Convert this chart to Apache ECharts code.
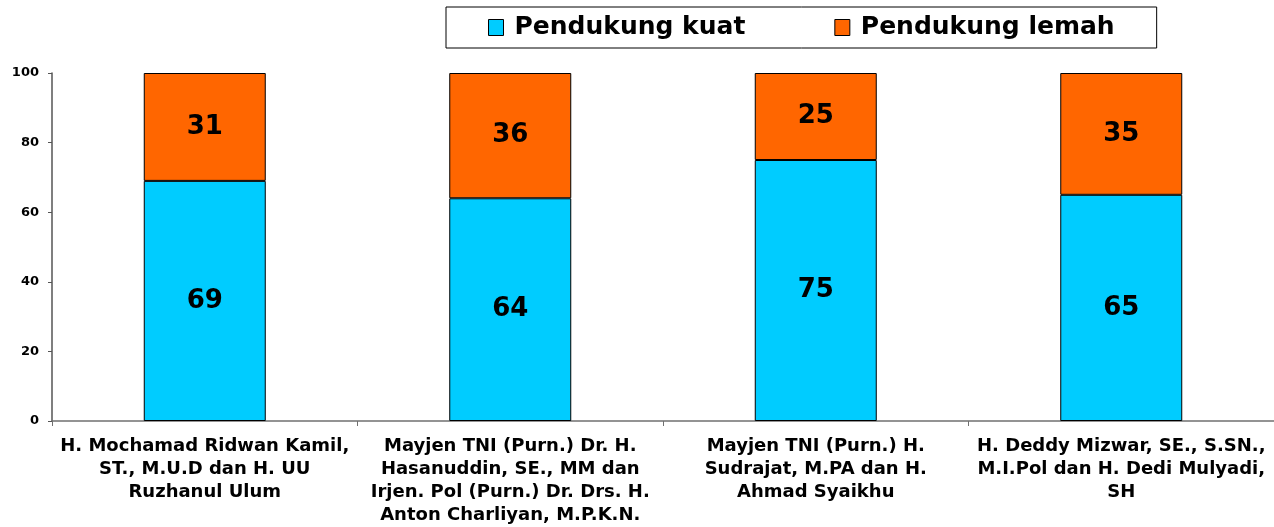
<!DOCTYPE html>
<html><head><meta charset="utf-8">
<script src="https://cdn.jsdelivr.net/npm/echarts@6/dist/echarts.min.js"></script>
<style>html,body{margin:0;padding:0;background:#fff}#c{width:1274px;height:527px}</style>
</head><body><div id="c"></div>
<script>
const categories = [
  "H. Mochamad Ridwan Kamil,\nST., M.U.D dan H. UU\nRuzhanul Ulum",
  "Mayjen TNI (Purn.) Dr. H.\nHasanuddin, SE., MM dan\nIrjen. Pol (Purn.) Dr. Drs. H.\nAnton Charliyan, M.P.K.N.",
  "Mayjen TNI (Purn.) H.\nSudrajat, M.PA dan H.\nAhmad Syaikhu",
  "H. Deddy Mizwar, SE., S.SN.,\nM.I.Pol dan H. Dedi Mulyadi,\nSH"
];
const seriesNames = ["Pendukung kuat", "Pendukung lemah"];
const kuat = [69, 64, 75, 65];
const lemah = [31, 36, 25, 35];
const yTicks = [0, 20, 40, 60, 80, 100];

const FONT = 'Verdana, "DejaVu Sans", sans-serif';
const chart = echarts.init(document.getElementById('c'), null, {renderer: 'canvas'});
const labelStyle = {show: true, position: 'inside', color: '#000', fontFamily: FONT, fontWeight: 'bold', fontSize: 26};
chart.setOption({
  animation: false,
  legend: {
    data: seriesNames,
    left: 446, top: 7,
    padding: [8, 42, 8, 42],
    itemWidth: 15, itemHeight: 16, itemGap: 89,
    borderColor: '#000', borderWidth: 1,
    itemStyle: {borderColor: '#000', borderWidth: 1},
    textStyle: {fontFamily: FONT, fontWeight: 'bold', fontSize: 25, color: '#000', padding: [0, 0, 0, 6]},
    icon: 'rect'
  },
  grid: {left: 52, top: 73, width: 1228, height: 348, containLabel: false},
  xAxis: {
    type: 'category', data: categories,
    axisLine: {lineStyle: {color: '#707070', width: 1.5}},
    axisTick: {show: true, length: 5, lineStyle: {color: '#707070'}},
    axisLabel: {interval: 0, color: '#000', fontFamily: FONT, fontWeight: 'bold', fontSize: 18, lineHeight: 23, margin: 14}
  },
  yAxis: {
    type: 'value', min: yTicks[0], max: yTicks[yTicks.length - 1], interval: 20,
    splitLine: {show: false},
    axisLine: {show: true, lineStyle: {color: '#555', width: 1.5}},
    axisTick: {show: true, length: 4, lineStyle: {color: '#555'}},
    axisLabel: {color: '#000', fontFamily: FONT, fontWeight: 'bold', fontSize: 13, margin: 13}
  },
  series: [
    {name: seriesNames[0], type: 'bar', stack: 's', data: kuat, barWidth: 122,
     itemStyle: {color: '#00CCFF', borderColor: '#000', borderWidth: 1}, label: labelStyle},
    {name: seriesNames[1], type: 'bar', stack: 's', data: lemah, barWidth: 122,
     itemStyle: {color: '#FF6600', borderColor: '#000', borderWidth: 1}, label: labelStyle}
  ]
});
</script></body></html>
